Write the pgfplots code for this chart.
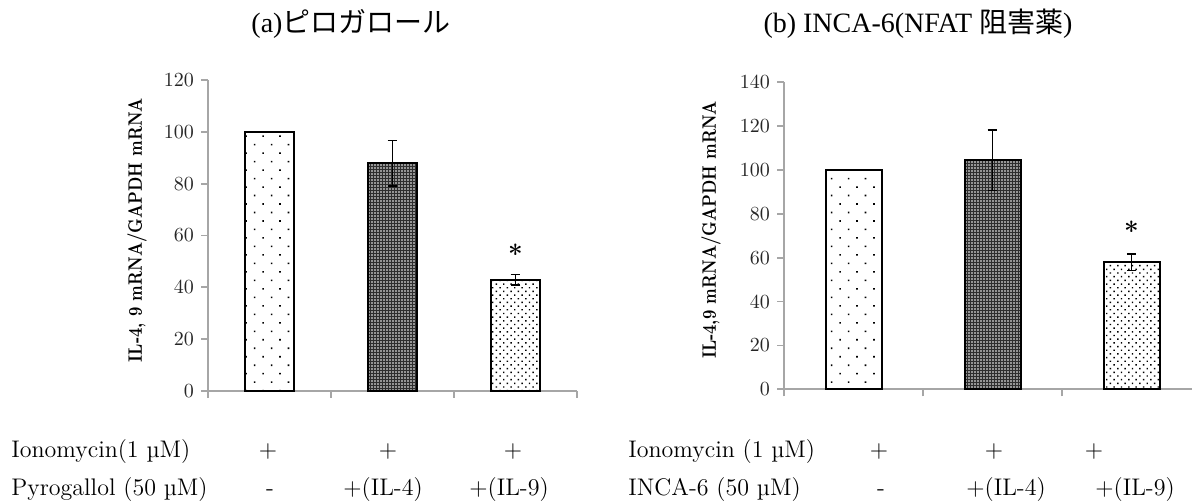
\documentclass[border=0pt]{standalone}
\usepackage{fontspec}
\usepackage{pgfplots}
\pgfplotsset{compat=1.18}
\usetikzlibrary{patterns.meta}

\newfontfamily\tnr{Liberation Serif}
\newfontfamily\cjk{Noto Sans CJK JP}

\definecolor{axisgray}{HTML}{A6A6A6}

\pgfplotsset{
  panel/.style={
    scale only axis,
    anchor=south west,
    axis lines*=left,
    axis line style={axisgray, line width=0.9pt},
    tick style={axisgray, line width=0.9pt},
    major tick length=3.5pt,
    tick align=outside,
    xmin=-0.5, ymin=0,
    xticklabels={},
    yticklabel style={font=\fontsize{10}{12}\selectfont, text=black!85},
    clip=false,
  },
  sparse dots/.style={draw=black, line width=1pt,
    pattern={Dots[distance=6pt,angle=45,radius=0.55pt]}, pattern color=black},
  checker/.style={draw=black, line width=1pt, fill=black!82,
    postaction={pattern={Dots[distance=1.5pt,radius=0.4pt]}, pattern color=white}},
  fine dots/.style={draw=black, line width=1pt,
    pattern={Dots[distance=2.6pt,angle=45,radius=0.5pt]}, pattern color=black},
  sem/.style={draw=none, mark=none, forget plot,
    error bars/.cd, y dir=both, y explicit, error mark=-,
    error bar style={draw=black, line width=0.75pt},
    error mark options={draw=black, line width=0.75pt, mark size=2.4pt, rotate=90}},
}

% condensed bold label for the y axes
\newcommand\ylab[1]{\scalebox{0.88}[1.08]{\bfseries\fontsize{9}{11}\selectfont #1}}

\begin{document}
\begin{tikzpicture}
\useasboundingbox (0,0) rectangle (596pt,250.5pt);

% panel titles
\node[font=\tnr\fontsize{14}{16}\selectfont] at (175.5pt,238.5pt) {(a){\cjk ピロガロール}};
\node[font=\tnr\fontsize{14}{16}\selectfont] at (459pt,238.5pt) {(b) INCA-6(NFAT {\cjk 阻害薬})};

% (a) pyrogallol
\begin{axis}[panel, at={(104pt,55pt)}, width=184.5pt, height=155.5pt,
  xmax=2.5, ymax=120, ytick={0,20,...,120}, xtick={-0.5,0.5,1.5,2.5}]
\addplot[ybar, bar shift=0pt, bar width=24.5pt, sparse dots] coordinates {(0,100)};
\addplot[ybar, bar shift=0pt, bar width=24.5pt, checker] coordinates {(1,87.8)};
\addplot[ybar, bar shift=0pt, bar width=24.5pt, fine dots] coordinates {(2,42.9)};
\addplot[sem] coordinates {(1,87.8) +- (0,8.8) (2,42.9) +- (0,2.0)};
\node[font=\bfseries\fontsize{13}{13}\selectfont, anchor=base, yshift=-6.9pt] at (axis cs:2,54.4) {*};
\end{axis}
\node[rotate=90] at (68.5pt,135.5pt) {\ylab{IL-4, 9 mRNA/GAPDH mRNA}};

% (b) INCA-6
\begin{axis}[panel, at={(392pt,55.85pt)}, width=204pt, height=153.5pt,
  xmax=2.435, ymax=140, ytick={0,20,...,140}, xtick={-0.5,0.5,1.5}]
\addplot[ybar, bar shift=0pt, bar width=28pt, sparse dots] coordinates {(0,100)};
\addplot[ybar, bar shift=0pt, bar width=28pt, checker] coordinates {(1,104.5)};
\addplot[ybar, bar shift=0pt, bar width=28pt, fine dots] coordinates {(2,58.0)};
\addplot[sem] coordinates {(1,104.5) +- (0,13.8) (2,58.0) +- (0,3.8)};
\node[font=\bfseries\fontsize{13}{13}\selectfont, anchor=base, yshift=-6.9pt] at (axis cs:2,74.1) {*};
\end{axis}
\node[rotate=90] at (355.5pt,135.5pt) {\ylab{IL-4,9 mRNA/GAPDH mRNA}};

% treatment rows
\begin{scope}[every node/.style={font=\fontsize{12}{14}\selectfont, anchor=base, inner sep=0pt}]
\node[anchor=base west] at (5.5pt,21.8pt) {Ionomycin(1 µM)};
\node at (134pt,21.8pt) {+};
\node at (194pt,21.8pt) {+};
\node at (256.5pt,21.8pt) {+};
\node[anchor=base west] at (5.5pt,2.6pt) {Pyrogallol (50 µM)};
\node at (135pt,2.6pt) {-};
\node at (191.5pt,2.6pt) {+(IL-4)};
\node at (254.5pt,2.6pt) {+(IL-9)};

\node[anchor=base west] at (314pt,21.8pt) {Ionomycin (1 µM)};
\node at (439.5pt,21.8pt) {+};
\node at (497pt,21.8pt) {+};
\node at (547pt,21.8pt) {+};
\node[anchor=base west] at (314pt,2.6pt) {INCA-6 (50 µM)};
\node at (440.5pt,2.6pt) {-};
\node at (503pt,2.6pt) {+(IL-4)};
\node at (567.5pt,2.6pt) {+(IL-9)};
\end{scope}
\end{tikzpicture}
\end{document}
